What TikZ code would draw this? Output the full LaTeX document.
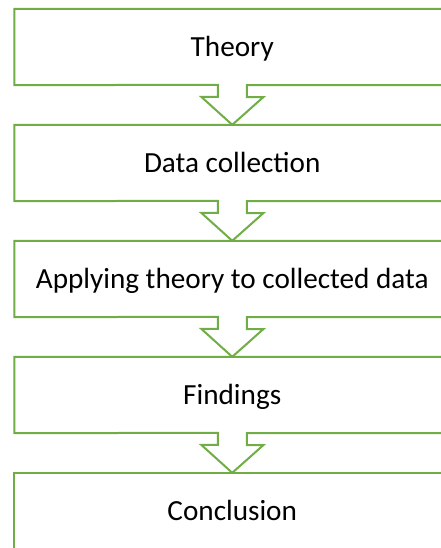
\documentclass[tikz,border=0pt]{standalone}
\usepackage{fontspec}
\setmainfont{Carlito}
\definecolor{stepgreen}{RGB}{112,173,71}
\begin{document}
\begin{tikzpicture}[x=1pt,y=-1pt,
  stepbox/.style={minimum width=435.5pt,minimum height=76pt,inner sep=0pt,text height=18.5pt,text depth=0pt,font=\fontsize{29.2}{34}\selectfont},
  stepline/.style={draw=stepgreen,line width=2pt,line join=miter}]
\useasboundingbox (0,0) rectangle (440,548);

% Steps
\foreach \t [count=\i from 0] in {Theory,Data collection,Applying theory to collected data,Findings,Conclusion}
  \node[stepbox] (s\i) at (232.25,47+116*\i) {\t};

% Boxes with down arrows
\foreach \i [evaluate=\i as \j using int(\i+1)] in {0,...,3}
  \draw[stepline] (s\i.south west) -- (s\i.north west) -- (s\i.north east) -- (s\i.south east)
    -- ([xshift=14.5pt]s\i.south) -- ++(0,12) -- ++(16.5,0) -- (s\j.north)
    -- ++(-31,-28) -- ++(16.5,0) -- ++(0,-12) -- cycle;

% Last box
\draw[stepline] (s4.south west) rectangle (s4.north east);

\end{tikzpicture}
\end{document}
